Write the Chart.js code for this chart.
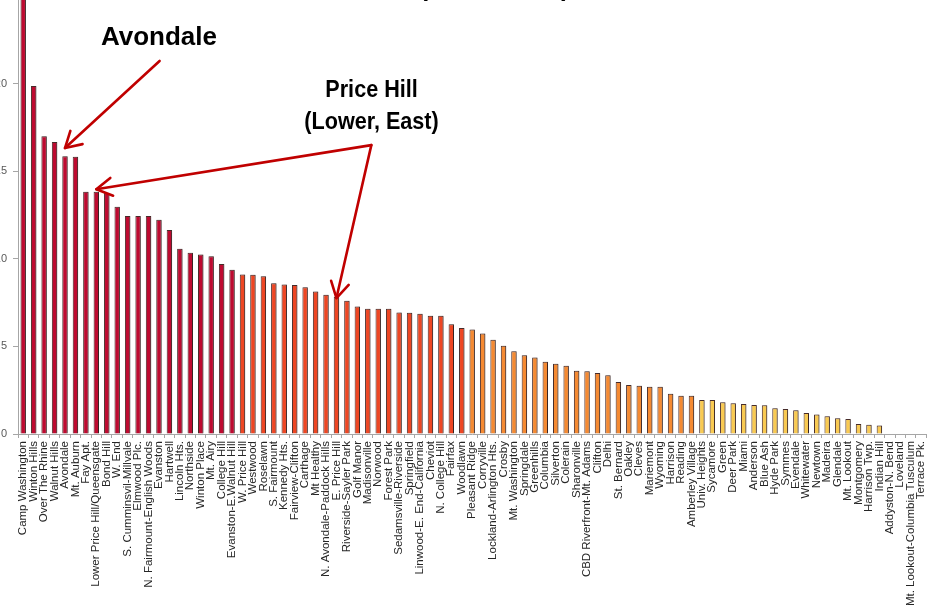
<!DOCTYPE html>
<html>
<head>
<meta charset="utf-8">
<script src="https://cdn.jsdelivr.net/npm/chart.js@4.4.1/dist/chart.umd.min.js"></script>
<style>
  html, body { margin: 0; padding: 0; background: #ffffff; }
  #frame { position: relative; width: 932px; height: 606px; overflow: hidden; background: #ffffff; }
  #holder { position: absolute; left: -22px; top: -64px; width: 960px; height: 698px; }
</style>
</head>
<body>
<div id="frame"><div id="holder"><canvas id="c" width="960" height="698"></canvas></div></div>
<script>
// ---- data ----
const categories = [
  'Camp Washington', 'Winton Hills', 'Over The Rhine', 'Walnut Hills', 'Avondale',
  'Mt. Auburn', 'Fay Apt.', 'Lower Price Hill/Queensgate', 'Bond Hill', 'W. End',
  'S. Cumminsvil-Millvale', 'Elmwood Plc.', 'N. Fairmount-English Woods', 'Evanston', 'Hartwell',
  'Lincoln Hts.', 'Northside', 'Winton Place', 'Mt. Airy', 'College Hill',
  'Evanston-E.Walnut Hill', 'W. Price Hill', 'Westwood', 'Roselawn', 'S. Fairmount',
  'Kennedy Hts.', 'Fairview-Clifton', 'Carthage', 'Mt Healthy', 'N. Avondale-Paddock Hills',
  'E. Price Hill', 'Riverside-Sayler Park', 'Golf Manor', 'Madisonville', 'Norwood',
  'Forest Park', 'Sedamsville-Riverside', 'Springfield', 'Linwood-E. End-California', 'Cheviot',
  'N. College Hill', 'Fairfax', 'Woodlawn', 'Pleasant Ridge', 'Corryville',
  'Lockland-Arlington Hts.', 'Crosby', 'Mt. Washington', 'Springdale', 'Greenhills',
  'Columbia', 'Silverton', 'Colerain', 'Sharonville', 'CBD Riverfront-Mt. Adams',
  'Clifton', 'Delhi', 'St. Bernard', 'Oakley', 'Cleves',
  'Mariemont', 'Wyoming', 'Harrison', 'Reading', 'Amberley Village',
  'Univ. Heights', 'Sycamore', 'Green', 'Deer Park', 'Miami',
  'Anderson', 'Blue Ash', 'Hyde Park', 'Symmes', 'Evendale',
  'Whitewater', 'Newtown', 'Madeira', 'Glendale', 'Mt. Lookout',
  'Montgomery', 'Harrison Twp.', 'Indian Hill', 'Addyston-N. Bend', 'Loveland',
  'Mt. Lookout-Columbia Tusculum', 'Terrace Pk.'
];
const values = [
  28.0, 19.87, 17.0, 16.67, 15.86, 15.82, 13.82, 13.82, 13.75, 12.97,
  12.45, 12.44, 12.44, 12.23, 11.64, 10.57, 10.34, 10.25, 10.14, 9.70,
  9.37, 9.11, 9.09, 9.01, 8.61, 8.54, 8.50, 8.37, 8.13, 7.95,
  7.83, 7.61, 7.28, 7.15, 7.15, 7.15, 6.94, 6.92, 6.86, 6.75,
  6.75, 6.26, 6.05, 5.97, 5.74, 5.38, 5.04, 4.72, 4.49, 4.37,
  4.12, 4.01, 3.90, 3.61, 3.58, 3.48, 3.36, 2.97, 2.80, 2.76,
  2.70, 2.70, 2.30, 2.19, 2.19, 1.94, 1.94, 1.81, 1.75, 1.71,
  1.65, 1.64, 1.47, 1.43, 1.35, 1.20, 1.12, 1.01, 0.90, 0.86,
  0.57, 0.53, 0.49, 0, 0, 0, 0
];
const tierSizes = [21, 22, 22, 22];   // quartile groups, in rank order
const yTickValues = [0, 5, 10, 15, 20, 25];
const titleText = '(2008 - 2012)';

// ---- styles ----
const tierColors = ['#BE0A30', '#EE4623', '#F58A32', '#F9CA52'];
const tierOf = [];
tierSizes.forEach((n, t) => { for (let k = 0; k < n; k++) tierOf.push(t); });
const barColors = values.map((v, i) => tierColors[tierOf[i]]);

// annotations (positions in data space: category index, value)
const notes = [
  { lines: ['Avondale'], at: [13.0, 22.2], lineStep: 0, font: 'bold 26px "Liberation Sans", Arial, sans-serif', squeeze: 1,
    from: [13.06, 21.29], tips: [[4, 16.32]] },
  { lines: ['Price Hill', '(Lower, East)'], at: [33.36, 19.25], lineStep: -1.86, font: 'bold 24px "Liberation Sans", Arial, sans-serif', squeeze: 0.9,
    from: [33.34, 16.49], tips: [[7, 13.97], [30, 7.76]] }
];
const titleAt = [45.15, 25.0];

const shadowPlugin = {
  id: 'barShadow',
  beforeDatasetsDraw(chart) {
    const ctx = chart.ctx;
    ctx.save();
    ctx.shadowColor = 'rgba(0,0,0,0.3)';
    ctx.shadowBlur = 2;
    ctx.shadowOffsetX = 1.5;
    ctx.shadowOffsetY = 0;
  },
  afterDatasetsDraw(chart) { chart.ctx.restore(); }
};

function arrow(ctx, sx, sy, tx, ty) {
  ctx.beginPath();
  ctx.moveTo(sx, sy);
  ctx.lineTo(tx, ty);
  ctx.stroke();
  const ang = Math.atan2(ty - sy, tx - sx);
  const len = 18, spread = Math.PI / 6;
  ctx.beginPath();
  ctx.moveTo(tx - len * Math.cos(ang - spread), ty - len * Math.sin(ang - spread));
  ctx.lineTo(tx, ty);
  ctx.lineTo(tx - len * Math.cos(ang + spread), ty - len * Math.sin(ang + spread));
  ctx.stroke();
}

const notePlugin = {
  id: 'notes',
  afterDraw(chart) {
    const { ctx } = chart;
    const xs = chart.scales.x, ys = chart.scales.y;
    ctx.save();
    // title (mostly above the visible frame)
    ctx.fillStyle = '#000';
    ctx.font = 'bold 25px "Liberation Sans", Arial, sans-serif';
    ctx.textAlign = 'center';
    ctx.textBaseline = 'alphabetic';
    ctx.fillText(titleText, xs.getPixelForValue(titleAt[0]), ys.getPixelForValue(titleAt[1]));

    notes.forEach(n => {
      const cx = xs.getPixelForValue(n.at[0]);
      n.lines.forEach((line, k) => {
        const by = ys.getPixelForValue(n.at[1] + k * n.lineStep);
        ctx.save();
        ctx.translate(cx, by);
        ctx.scale(n.squeeze, 1);
        ctx.font = n.font;
        ctx.fillStyle = '#000';
        ctx.textAlign = 'center';
        ctx.fillText(line, 0, 0);
        ctx.restore();
      });
      ctx.strokeStyle = '#C00000';
      ctx.lineWidth = 2.6;
      ctx.lineCap = 'round';
      ctx.lineJoin = 'round';
      const sx = xs.getPixelForValue(n.from[0]);
      const sy = ys.getPixelForValue(n.from[1]);
      n.tips.forEach(t => {
        arrow(ctx, sx, sy, xs.getPixelForValue(t[0]), ys.getPixelForValue(t[1]));
      });
    });
    ctx.restore();
  }
};

new Chart(document.getElementById('c'), {
  type: 'bar',
  data: {
    labels: categories,
    datasets: [{
      data: values,
      backgroundColor: barColors,
      borderColor: '#4A2E2C',
      borderWidth: ctx => (ctx.raw > 0 ? 1 : 0),
      borderSkipped: 'bottom',
      categoryPercentage: 1,
      barPercentage: 0.52
    }]
  },
  options: {
    responsive: false,
    animation: false,
    layout: { padding: { top: 60, right: 9, left: 0, bottom: 0 } },
    plugins: { legend: { display: false }, tooltip: { enabled: false }, title: { display: false } },
    scales: {
      x: {
        grid: { display: true, drawOnChartArea: false, drawTicks: true, tickLength: 4, color: '#A6A6A6', tickColor: '#A6A6A6', offset: true },
        border: { display: true, color: '#A6A6A6', width: 1 },
        ticks: {
          autoSkip: false, maxRotation: 90, minRotation: 90, padding: 3,
          color: '#262626',
          font: { family: '"Liberation Sans", Arial, sans-serif', size: 11.5 }
        },
        afterFit(scale) { scale.height = 200; }
      },
      y: {
        min: 0, max: 25,
        afterBuildTicks(scale) { scale.ticks = yTickValues.map(v => ({ value: v })); },
        grid: { display: true, drawOnChartArea: false, drawTicks: true, tickLength: 5, color: '#A6A6A6', tickColor: '#A6A6A6' },
        border: { display: true, color: '#A6A6A6', width: 1 },
        ticks: {
          padding: 6,
          color: '#595959',
          font: { family: '"Liberation Sans", Arial, sans-serif', size: 11 }
        },
        afterFit(scale) { scale.width = 40; }
      }
    }
  },
  plugins: [shadowPlugin, notePlugin]
});
</script>
</body>
</html>
